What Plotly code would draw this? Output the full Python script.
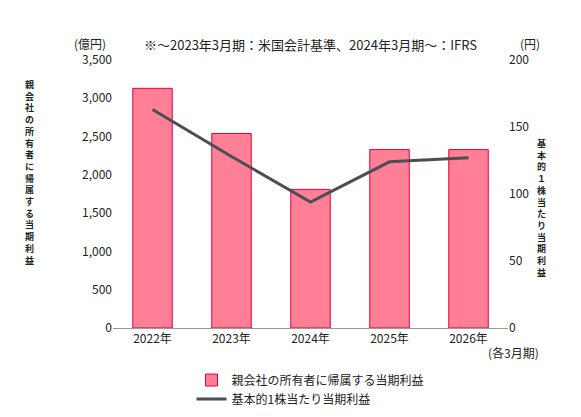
import plotly.graph_objects as go

years = ["2022年", "2023年", "2024年", "2025年", "2026年"]
profit = [3130, 2540, 1810, 2330, 2330]
eps = [163, 128, 94, 124, 127]

F = "Noto Sans CJK JP"
fig = go.Figure()
fig.add_trace(go.Bar(x=years, y=profit, name="親会社の所有者に帰属する当期利益",
                     marker=dict(color="#FF7F96", line=dict(color="#E8003A", width=1)), width=0.5))
fig.add_trace(go.Scatter(x=years, y=eps, name="基本的1株当たり当期利益", yaxis="y2",
                         mode="lines", line=dict(color="#4A4F55", width=3)))

left = "親会社の所有者に帰属する当期利益"
right = "基本的１株当たり当期利益"
fig.update_layout(
    width=581, height=417, margin=dict(l=105, r=81, t=52, b=89),
    plot_bgcolor="white", paper_bgcolor="white",
    font=dict(family=F, size=12, color="#222"),
    xaxis=dict(showline=True, linecolor="#999", ticks="", tickfont=dict(size=12)),
    yaxis=dict(range=[0, 3500], dtick=500, tickformat=",", showgrid=False, showline=False, ticks=""),
    yaxis2=dict(range=[0, 200], dtick=50, overlaying="y", side="right", showgrid=False, ticks=""),
    legend=dict(orientation="v", x=0.5, xanchor="center", y=-0.14, yanchor="top",
                font=dict(size=12), traceorder="normal"),
    annotations=[
        dict(text="(億円)", x=0, y=1, xref="paper", yref="paper", xanchor="right", yanchor="bottom", showarrow=False, xshift=-5, yshift=6, font=dict(size=12)),
        dict(text="(円)", x=1, y=1, xref="paper", yref="paper", xanchor="left", yanchor="bottom", showarrow=False, xshift=10, yshift=6, font=dict(size=12)),
        dict(text="※～2023年3月期：米国会計基準、2024年3月期～：IFRS", x=0.5, y=1, xref="paper", yref="paper",
             xanchor="center", yanchor="bottom", showarrow=False, yshift=4, font=dict(size=13)),
        dict(text="<b>" + "<br>".join(left) + "</b>", x=0, y=0.58, xref="paper", yref="paper", showarrow=False,
             xshift=-90, font=dict(size=9), align="center"),
        dict(text="<b>" + "<br>".join(right) + "</b>", x=1, y=0.72, xref="paper", yref="paper", showarrow=False,
             xshift=40, font=dict(size=9), align="center"),
        dict(text="(各3月期)", x=1.0, y=0, xref="paper", yref="paper", xanchor="left", yanchor="top",
             showarrow=False, yshift=-14, xshift=-22, font=dict(size=12)),
    ],
)
fig.write_html("out.html")
